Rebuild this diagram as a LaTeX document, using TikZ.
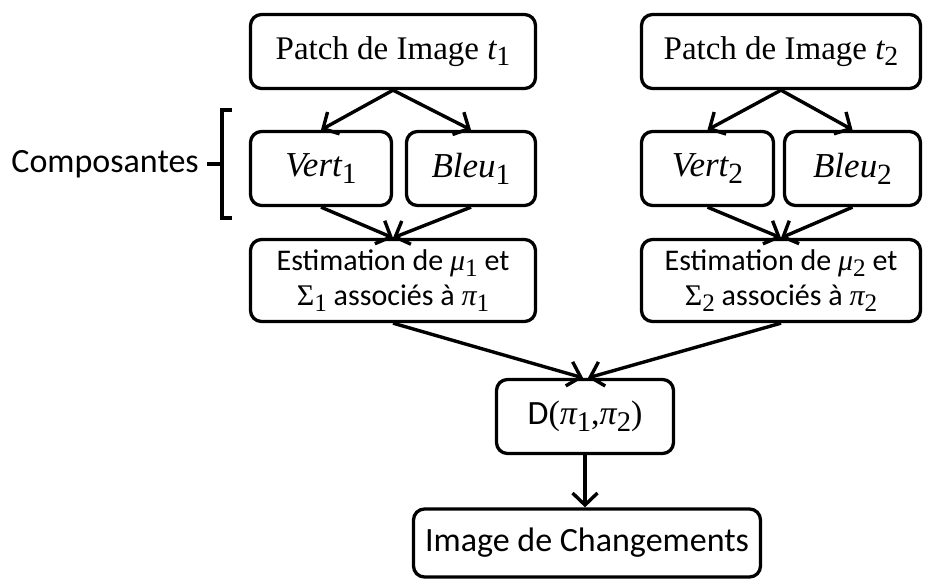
\documentclass[tikz,border=0pt]{standalone}
\usepackage{fontspec}
\setmainfont{Carlito}
\newfontfamily\camfont{Liberation Serif}
\makeatletter
\newcommand\mvar[1]{{\camfont\itshape #1}}
\newcommand\msub[1]{\raisebox{-0.2em}{\camfont\fontsize{\the\dimexpr\f@size pt*84/100\relax}{0pt}\selectfont #1}}
\newcommand\mup[1]{{\camfont #1}}
\makeatother
\usetikzlibrary{arrows.meta,calc}
\begin{document}
\begin{tikzpicture}[x=1pt,y=-1pt,
  box/.style={draw, line width=3.3pt, rounded corners=11pt, inner sep=0pt, align=center},
  big/.style={font=\fontsize{34}{40}\selectfont},
  bigm/.style={font=\fontsize{35}{40}\selectfont},
  serif/.style={font=\camfont\fontsize{33}{40}\selectfont},
  small/.style={font=\fontsize{30}{35}\selectfont},
  arr/.style={-{Straight Barb[length=12pt,width=25pt]}, line width=3.4pt}]
\path[use as bounding box] (0,0) rectangle (925,581);

% left column
\node[box, serif, minimum width=285pt, minimum height=74pt] (p1) at (393,51.5) {Patch de Image \mvar{t}\msub{1}};
\node[box, bigm, minimum width=141pt, minimum height=74pt] (v1) at (321,168.5) {\mvar{Vert}\msub{1}};
\node[box, bigm, minimum width=129pt, minimum height=74pt] (b1) at (471,168.5) {\mvar{Bleu}\msub{1}};
\node[box, small, minimum width=285pt, minimum height=82pt] (e1) at (393,280.5) {Estimation de \mvar{μ}\msub{1} et\\\mup{Σ}\msub{1} associés à \mvar{π}\msub{1}};

% right column
\node[box, serif, minimum width=279pt, minimum height=74pt] (p2) at (781,51.5) {Patch de Image \mvar{t}\msub{2}};
\node[box, bigm, minimum width=132pt, minimum height=74pt] (v2) at (707.5,168.5) {\mvar{Vert}\msub{2}};
\node[box, bigm, minimum width=136pt, minimum height=74pt] (b2) at (852.5,168.5) {\mvar{Bleu}\msub{2}};
\node[box, small, minimum width=279pt, minimum height=82pt] (e2) at (781,280.5) {Estimation de \mvar{μ}\msub{2} et\\\mup{Σ}\msub{2} associés à \mvar{π}\msub{2}};

% bottom
\node[box, big, minimum width=177pt, minimum height=74pt] (d) at (585,416.5) {D\mup{(}\mvar{π}\msub{1}\mup{,}\mvar{π}\msub{2}\mup{)}};
\node[box, big, minimum width=347pt, minimum height=68pt] (img) at (587,543) {Image de Changements};

% label and bracket
\node[big, anchor=east, inner sep=0pt] (comp) at (199,164) {Composantes};
\coordinate (bt) at (232,110);
\coordinate (bb) at (232,218);
\coordinate (bm) at (222,164);
\draw[line width=3.4pt] (bt) -- (bt -| bm) -- (bb -| bm) -- (bb);
\draw[line width=3.4pt] (comp.east) ++(8pt,0) coordinate (tk) -- (bm);

% arrows
\draw[arr] (p1.south) -- (v1.north);
\draw[arr] (p1.south) -- (b1.north);
\draw[arr] (v1.south) -- (e1.north);
\draw[arr] (b1.south) -- (e1.north);
\draw[arr] (p2.south) -- (v2.north);
\draw[arr] (p2.south) -- (b2.north);
\draw[arr] (v2.south) -- (e2.north);
\draw[arr] (b2.south) -- (e2.north);
\draw[arr] (e1.south) -- ($(d.north)+(-2,0)$);
\draw[arr] (e2.south) -- ($(d.north)+(3,0)$);
\draw[arr] (d.south) -- (d.south |- img.north);
\end{tikzpicture}
\end{document}
